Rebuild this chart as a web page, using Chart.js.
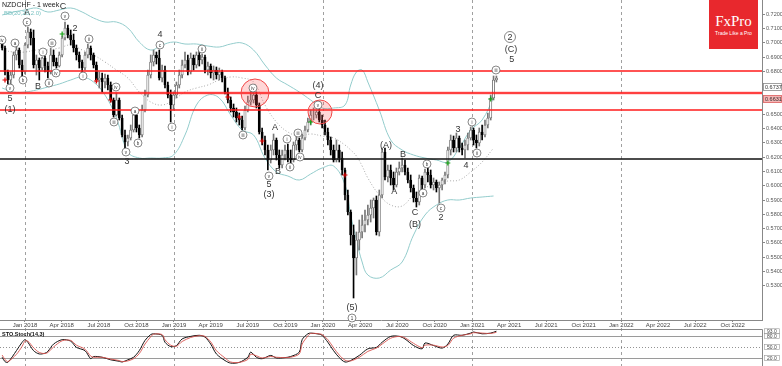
<!DOCTYPE html>
<html lang="en">
<head>
<meta charset="UTF-8" />
<title>NZDCHF - 1 week</title>
<script src="https://cdn.jsdelivr.net/npm/chart.js"></script>
<style>
  html, body { margin: 0; padding: 0; background: #fff; }
  body {
    width: 782px; height: 366px; position: relative; overflow: hidden;
    font-family: "Liberation Sans", Arial, sans-serif;
  }
  #mainBox { position: absolute; left: 0; top: 0; width: 782px; height: 330px; }
  #stochBox { position: absolute; left: 0; top: 328px; width: 782px; height: 38px; }
  .title { position: absolute; left: 2px; top: 1px; font-size: 7px; color: #222; }
  .bb { position: absolute; left: 4px; top: 10px; font-size: 6px; color: #7cc3c3; }
  .logo {
    position: absolute; left: 709px; top: 0; width: 49px; height: 49px;
    background: #e8282d; color: #fff; text-align: center;
  }
  .logo .name { font-family: "Liberation Serif", "DejaVu Serif", serif; font-size: 15px; margin-top: 14px; line-height: 15px; }
  .logo .slogan { font-size: 5px; line-height: 6px; margin-top: 1px; }
</style>
</head>
<body>
  <div id="mainBox"><canvas id="mainChart"></canvas></div>
  <div id="stochBox"><canvas id="stochChart"></canvas></div>
  <div class="title">NZDCHF - 1 week</div>
  <div class="bb">BB(20,20,2.0)</div>
  <div class="logo"><div class="name">FxPro</div><div class="slogan">Trade Like a Pro</div></div>

<script>
// weekly candles, first candle = 8 weeks before Jan 2018
const firstWeek = -8;
const opens = [
  0.7020,0.6964,0.6796,0.6740,0.6775,0.6915,0.6950,0.6845,0.6796,0.6985,
  0.7076,0.7034,0.6845,0.6880,0.6824,0.6894,0.6838,0.6796,0.6915,0.6866,
  0.6838,0.6915,0.7034,0.7104,0.7055,0.7020,0.6964,0.6915,0.6866,0.6824,
  0.6915,0.6964,0.6915,0.6845,0.6740,0.6754,0.6726,0.6754,0.6705,0.6600,
  0.6495,0.6600,0.6474,0.6355,0.6306,0.6334,0.6390,0.6495,0.6404,0.6355,
  0.6530,0.6635,0.6775,0.6866,0.6915,0.6894,0.6754,0.6810,0.6705,0.6635,
  0.6565,0.6635,0.6705,0.6775,0.6845,0.6880,0.6796,0.6894,0.6845,0.6915,
  0.6880,0.6901,0.6810,0.6838,0.6789,0.6810,0.6775,0.6796,0.6754,0.6656,
  0.6600,0.6544,0.6516,0.6474,0.6460,0.6404,0.6530,0.6586,0.6600,0.6635,
  0.6565,0.6376,0.6320,0.6250,0.6180,0.6250,0.6320,0.6215,0.6145,0.6215,
  0.6250,0.6194,0.6180,0.6285,0.6320,0.6250,0.6334,0.6390,0.6446,0.6495,
  0.6495,0.6516,0.6460,0.6425,0.6376,0.6320,0.6250,0.6180,0.6250,0.6194,
  0.6110,0.5935,0.5816,0.5655,0.5494,0.5620,0.5676,0.5725,0.5760,0.5795,
  0.5844,0.5900,0.5676,0.5935,0.6236,0.6061,0.6110,0.6054,0.6005,0.6096,
  0.6124,0.6145,0.6096,0.6040,0.5984,0.5914,0.5886,0.6054,0.6005,0.6096,
  0.6075,0.6005,0.6026,0.5984,0.6005,0.6040,0.6075,0.6250,0.6320,0.6264,
  0.6334,0.6264,0.6250,0.6285,0.6334,0.6390,0.6320,0.6299,0.6376,0.6355,
  0.6425,0.6474,0.6614,0.6740
];
const highs = [
  0.7034,0.6978,0.6810,0.6796,0.6936,0.6978,0.6964,0.6880,0.6999,0.7111,
  0.7097,0.7090,0.6915,0.6894,0.6901,0.6908,0.6866,0.6964,0.6950,0.6894,
  0.6936,0.7048,0.7146,0.7125,0.7090,0.7062,0.6985,0.6936,0.6880,0.6936,
  0.6992,0.6978,0.6929,0.6866,0.6796,0.6789,0.6782,0.6775,0.6726,0.6614,
  0.6649,0.6614,0.6495,0.6390,0.6355,0.6425,0.6509,0.6502,0.6425,0.6565,
  0.6670,0.6810,0.6915,0.6950,0.6936,0.6950,0.6845,0.6838,0.6726,0.6670,
  0.6656,0.6726,0.6810,0.6880,0.6936,0.6915,0.6929,0.6915,0.6936,0.6950,
  0.6922,0.6915,0.6866,0.6852,0.6838,0.6831,0.6824,0.6810,0.6768,0.6684,
  0.6621,0.6572,0.6544,0.6509,0.6488,0.6558,0.6628,0.6670,0.6649,0.6656,
  0.6579,0.6404,0.6348,0.6285,0.6285,0.6362,0.6334,0.6250,0.6250,0.6285,
  0.6292,0.6250,0.6306,0.6348,0.6334,0.6362,0.6418,0.6474,0.6530,0.6544,
  0.6530,0.6544,0.6495,0.6460,0.6404,0.6341,0.6285,0.6320,0.6285,0.6236,
  0.6124,0.5970,0.5830,0.5725,0.5676,0.5760,0.5795,0.5830,0.5865,0.5900,
  0.5914,0.5928,0.5970,0.6264,0.6264,0.6145,0.6145,0.6096,0.6124,0.6166,
  0.6194,0.6180,0.6124,0.6075,0.6005,0.5956,0.6075,0.6068,0.6117,0.6124,
  0.6110,0.6054,0.6040,0.6026,0.6054,0.6096,0.6271,0.6355,0.6348,0.6369,
  0.6348,0.6299,0.6320,0.6369,0.6411,0.6404,0.6355,0.6404,0.6425,0.6460,
  0.6509,0.6635,0.6768,0.6768
];
const lows = [
  0.6950,0.6775,0.6712,0.6698,0.6754,0.6880,0.6824,0.6761,0.6782,0.6964,
  0.6985,0.6824,0.6775,0.6740,0.6810,0.6796,0.6754,0.6782,0.6838,0.6824,
  0.6831,0.6901,0.7020,0.7034,0.6985,0.6936,0.6880,0.6824,0.6796,0.6810,
  0.6894,0.6880,0.6824,0.6726,0.6684,0.6656,0.6684,0.6670,0.6586,0.6481,
  0.6488,0.6460,0.6341,0.6264,0.6278,0.6320,0.6376,0.6376,0.6334,0.6341,
  0.6516,0.6621,0.6754,0.6838,0.6852,0.6740,0.6726,0.6684,0.6614,0.6446,
  0.6530,0.6614,0.6684,0.6754,0.6824,0.6775,0.6782,0.6810,0.6824,0.6838,
  0.6852,0.6789,0.6775,0.6754,0.6740,0.6747,0.6740,0.6726,0.6642,0.6579,
  0.6516,0.6481,0.6446,0.6425,0.6390,0.6390,0.6516,0.6565,0.6579,0.6544,
  0.6362,0.6285,0.6215,0.6110,0.6159,0.6215,0.6180,0.6124,0.6124,0.6180,
  0.6166,0.6159,0.6166,0.6250,0.6236,0.6236,0.6320,0.6376,0.6425,0.6460,
  0.6474,0.6446,0.6404,0.6355,0.6285,0.6215,0.6166,0.6166,0.6166,0.6075,
  0.5900,0.5795,0.5585,0.5214,0.5375,0.5550,0.5634,0.5676,0.5725,0.5746,
  0.5774,0.5655,0.5648,0.5914,0.6040,0.6026,0.6005,0.5970,0.5991,0.6075,
  0.6096,0.6075,0.6019,0.5956,0.5886,0.5851,0.5865,0.5977,0.5984,0.6026,
  0.5984,0.5970,0.5956,0.5879,0.5970,0.6012,0.6054,0.6215,0.6236,0.6236,
  0.6236,0.6215,0.6194,0.6250,0.6320,0.6285,0.6264,0.6278,0.6320,0.6341,
  0.6404,0.6460,0.6600,0.6726
];
const closes = [
  0.6964,0.6796,0.6740,0.6775,0.6915,0.6950,0.6845,0.6796,0.6985,0.7076,
  0.7034,0.6845,0.6880,0.6824,0.6894,0.6838,0.6796,0.6915,0.6866,0.6838,
  0.6915,0.7034,0.7104,0.7055,0.7020,0.6964,0.6915,0.6866,0.6824,0.6915,
  0.6964,0.6915,0.6845,0.6740,0.6754,0.6726,0.6754,0.6705,0.6600,0.6495,
  0.6600,0.6474,0.6355,0.6306,0.6334,0.6390,0.6495,0.6404,0.6355,0.6530,
  0.6635,0.6775,0.6866,0.6915,0.6894,0.6754,0.6810,0.6705,0.6635,0.6565,
  0.6635,0.6705,0.6775,0.6845,0.6880,0.6796,0.6894,0.6845,0.6915,0.6880,
  0.6901,0.6810,0.6838,0.6789,0.6810,0.6775,0.6796,0.6754,0.6656,0.6600,
  0.6544,0.6516,0.6474,0.6460,0.6404,0.6530,0.6586,0.6600,0.6635,0.6565,
  0.6376,0.6320,0.6250,0.6180,0.6250,0.6320,0.6215,0.6145,0.6215,0.6250,
  0.6194,0.6180,0.6285,0.6320,0.6250,0.6334,0.6390,0.6446,0.6495,0.6495,
  0.6516,0.6460,0.6425,0.6376,0.6320,0.6250,0.6180,0.6250,0.6194,0.6110,
  0.5935,0.5816,0.5655,0.5494,0.5620,0.5676,0.5725,0.5760,0.5795,0.5844,
  0.5900,0.5676,0.5935,0.6236,0.6061,0.6110,0.6054,0.6005,0.6096,0.6124,
  0.6145,0.6096,0.6040,0.5984,0.5914,0.5886,0.6054,0.6005,0.6096,0.6075,
  0.6005,0.6026,0.5984,0.6005,0.6040,0.6075,0.6250,0.6320,0.6264,0.6334,
  0.6264,0.6250,0.6285,0.6334,0.6390,0.6320,0.6299,0.6376,0.6355,0.6425,
  0.6474,0.6614,0.6740,0.6754
];

// Bollinger bands (20,2), sampled every few weeks
const bbWeeks = [-8,-4,0,4,8,12,16,20,24,28,32,36,40,44,48,52,56,60,64,68,72,76,80,84,88,92,96,100,104,108,112,114,116,118,120,124,128,132,136,140,144,148,152,156,160,164];
const bbUpper = [0.7195,0.7216,0.7230,0.7244,0.7216,0.7230,0.7244,0.7216,0.7174,0.7146,0.7146,0.7104,0.7006,0.6950,0.6985,0.7006,0.6992,0.6992,0.6978,0.6971,0.6992,0.6999,0.6950,0.6845,0.6754,0.6705,0.6656,0.6600,0.6544,0.6544,0.6565,0.6705,0.6796,0.6810,0.6726,0.6530,0.6320,0.6250,0.6215,0.6194,0.6180,0.6166,0.6264,0.6390,0.6460,0.6614];
const bbMiddle = [0.6950,0.6936,0.6936,0.6950,0.6950,0.6964,0.6985,0.6950,0.6915,0.6866,0.6810,0.6754,0.6656,0.6586,0.6565,0.6600,0.6656,0.6684,0.6705,0.6740,0.6761,0.6754,0.6726,0.6565,0.6446,0.6376,0.6348,0.6362,0.6348,0.6334,0.6285,0.6250,0.6208,0.6138,0.6054,0.5935,0.5865,0.5858,0.5935,0.5984,0.6019,0.6033,0.6040,0.6096,0.6166,0.6264];
const bbLower = [0.6684,0.6656,0.6656,0.6670,0.6691,0.6712,0.6740,0.6761,0.6726,0.6635,0.6474,0.6236,0.6194,0.6194,0.6194,0.6215,0.6355,0.6565,0.6635,0.6614,0.6495,0.6390,0.6355,0.6194,0.6096,0.6068,0.6040,0.6082,0.6124,0.6138,0.6005,0.5795,0.5620,0.5466,0.5375,0.5354,0.5410,0.5466,0.5655,0.5795,0.5865,0.5900,0.5900,0.5914,0.5921,0.5928];

// arrow markers of the indicator
const redMarkWeeks = [-7, 25, 30, 71, 75, 83, 112];
const redMarkPrices = [0.6740, 0.6733, 0.6600, 0.6621, 0.6481, 0.6313, 0.6075];
const greenMarkWeeks = [13, 100, 148, 163];
const greenMarkPrices = [0.7062, 0.6446, 0.6159, 0.6607];

// horizontal levels
const redLevels = [0.6803, 0.6649, 0.6527];
const blackLevel = 0.6190;
const zoneWeeks = [80.5, 103.25];
const zonePrices = [0.6649, 0.6516];

// price boxes on the axis: [price, text]
const axisBoxes = [[0.6691, '0.6737'], [0.6607, '0.6631']];

// wave labels: [text, week, price]
const waveText = [
  ['5', -5.25, 0.6607], ['(1)', -5.25, 0.6530], ['A', 0.7, 0.7209], ['B', 4.55, 0.6691],
  ['C', 13.3, 0.7251], ['2', 17.5, 0.7097], ['3', 35.7, 0.6166], ['4', 47.25, 0.7055],
  ['A', 87.5, 0.6404], ['B', 88.55, 0.6096], ['5', 85.4, 0.6005], ['(3)', 85.4, 0.5935],
  ['(4)', 102.55, 0.6698], ['C', 102.55, 0.6628], ['(5)', 114.45, 0.5144],
  ['(A)', 126.36, 0.6278], ['A', 129.2, 0.5956], ['B', 132.3, 0.6215], ['C', 136.5, 0.5809],
  ['(B)', 136.5, 0.5725], ['2', 145.6, 0.5774], ['3', 151.55, 0.6390], ['4', 154.4, 0.6138],
  ['(C)', 170.1, 0.6950], ['5', 170.4, 0.6880]
];
const waveCircled = [
  ['iv', -8.05, 0.7020], ['v', -5.25, 0.6684], ['a', -3.5, 0.6999], ['b', -0.7, 0.6740],
  ['c', 0.7, 0.7146], ['i', 6.3, 0.6936], ['ii', 8.4, 0.6719], ['iii', 9.45, 0.6999],
  ['iv', 10.85, 0.6789], ['v', 14.0, 0.7188], ['i', 20.3, 0.6768], ['ii', 22.4, 0.7027],
  ['iii', 31.15, 0.6446], ['iv', 31.85, 0.6691], ['v', 35.35, 0.6236], ['a', 38.5, 0.6523],
  ['b', 39.55, 0.6299], ['c', 47.25, 0.6985], ['i', 51.45, 0.6411], ['ii', 61.95, 0.6957],
  ['iii', 76.3, 0.6355], ['iv', 79.8, 0.6684], ['v', 85.4, 0.6068], ['i', 91.7, 0.6327],
  ['ii', 92.75, 0.6131], ['iii', 95.55, 0.6369], ['iv', 96.25, 0.6201], ['v', 102.55, 0.6565],
  ['1', 114.45, 0.5074], ['a', 139.3, 0.5949], ['b', 140.7, 0.6152], ['c', 145.6, 0.5844],
  ['i', 156.45, 0.6446], ['ii', 158.2, 0.6229], ['iii', 164.85, 0.6810]
];
const bigCircled = [['2', 169.75, 0.7041]];

// stochastic (14,3)
const stochWeeks = [-8,-7,-6,-3,-1,0,1,3,5,7,8,10,13,16,18,21,23,24,27,30,33,34,36,38,40,42,44,45,48,49,51,53,55,58,61,63,65,67,70,72,75,78,79,81,83,86,88,91,93,96,97,99,100,103,104,106,108,110,112,114,117,120,123,125,128,131,133,136,139,140,143,146,148,150,153,156,157,160,163,165];
const stochMain = [22,10,8,40,63,70,63,40,31,33,38,58,70,66,49,40,18,24,22,15,11,9,15,22,40,68,84,86,82,63,51,54,72,79,82,77,58,31,13,6,8,22,36,22,18,27,20,21,24,36,70,86,88,85,82,63,40,21,9,13,27,45,49,63,79,79,72,54,45,61,54,47,58,82,82,88,91,86,88,93];
const stochSignal = [28,16,10,30,52,66,66,48,35,32,35,50,67,68,55,44,25,22,22,17,13,10,12,18,32,58,78,85,84,70,55,52,65,76,81,79,64,40,20,9,8,16,30,26,20,24,22,21,22,31,58,80,87,86,84,70,48,28,14,12,22,38,47,58,74,79,75,60,48,55,55,50,54,74,82,86,89,88,87,90];
const stochLevels = [80, 50, 20];

// axes
const quarterLabels = ['Jan 2018','Apr 2018','Jul 2018','Oct 2018','Jan 2019','Apr 2019','Jul 2019','Oct 2019',
  'Jan 2020','Apr 2020','Jul 2020','Oct 2020','Jan 2021','Apr 2021','Jul 2021','Oct 2021',
  'Jan 2022','Apr 2022','Jul 2022','Oct 2022'];
const priceTicks = [0.53,0.54,0.55,0.56,0.57,0.58,0.59,0.60,0.61,0.62,0.63,0.64,0.65,0.66,0.67,0.68,0.69,0.70,0.71,0.72];

const quarterWeeks = quarterLabels.map((s, q) =>
  (Date.UTC(2018 + Math.floor(q / 4), (q % 4) * 3, 1) - Date.UTC(2018, 0, 1)) / 6048e5);

const X_MIN = -8.75, X_MAX = 257.96;
const FONT = '"Liberation Sans", Arial, sans-serif';
Chart.defaults.font.family = FONT;

const weeks = closes.map((c, i) => firstWeek + i);
const isBear = i => closes[i] < opens[i];
const pts = (xs, ys) => xs.map((x, i) => ({ x: x, y: ys[i] }));

function yearLines(chart) {
  const { ctx, chartArea: a, scales: { x } } = chart;
  ctx.save();
  ctx.strokeStyle = '#a0a0a0';
  ctx.lineWidth = 1;
  ctx.setLineDash([3, 3]);
  quarterWeeks.forEach((w, i) => {
    if (i % 4) return;
    const px = Math.round(x.getPixelForValue(w)) + 0.5;
    ctx.beginPath();
    ctx.moveTo(px, a.top);
    ctx.lineTo(px, a.bottom);
    ctx.stroke();
  });
  ctx.restore();
}

function circledLabel(ctx, text, px, py, r, size) {
  ctx.beginPath();
  ctx.arc(px, py, r, 0, Math.PI * 2);
  ctx.fillStyle = '#fff';
  ctx.fill();
  ctx.lineWidth = 0.7;
  ctx.strokeStyle = '#555';
  ctx.stroke();
  ctx.fillStyle = '#333';
  ctx.font = size + 'px ' + FONT;
  ctx.fillText(text, px, py + 0.5);
}

const mainOverlay = {
  id: 'mainOverlay',
  beforeDatasetsDraw(chart) { yearLines(chart); },
  afterDatasetsDraw(chart) {
    const { ctx, chartArea: a, scales: { x, y } } = chart;
    ctx.save();
    // levels
    redLevels.forEach((lv, i) => {
      const py = Math.round(y.getPixelForValue(lv));
      if (i === 1) {
        ctx.strokeStyle = 'rgba(255,0,0,0.3)';
        ctx.lineWidth = 3;
        ctx.beginPath(); ctx.moveTo(a.left, py); ctx.lineTo(a.right, py); ctx.stroke();
      }
      ctx.strokeStyle = '#ff1a1a';
      ctx.lineWidth = 1.6;
      ctx.beginPath(); ctx.moveTo(a.left, py); ctx.lineTo(a.right, py); ctx.stroke();
    });
    const by = Math.round(y.getPixelForValue(blackLevel));
    ctx.strokeStyle = '#111';
    ctx.lineWidth = 1.5;
    ctx.beginPath(); ctx.moveTo(a.left, by); ctx.lineTo(a.right, by); ctx.stroke();

    // highlighted turning points
    const radii = [14, 12];
    zoneWeeks.forEach((w, i) => {
      ctx.beginPath();
      ctx.arc(x.getPixelForValue(w), y.getPixelForValue(zonePrices[i]), radii[i], 0, Math.PI * 2);
      ctx.fillStyle = 'rgba(255,70,70,0.22)';
      ctx.fill();
      ctx.strokeStyle = '#f04848';
      ctx.lineWidth = 1;
      ctx.stroke();
    });

    // wave labels
    ctx.textAlign = 'center';
    ctx.textBaseline = 'middle';
    ctx.fillStyle = '#333';
    ctx.font = '9px ' + FONT;
    waveText.forEach(([t, w, p]) => ctx.fillText(t, x.getPixelForValue(w), y.getPixelForValue(p)));
    waveCircled.forEach(([t, w, p]) =>
      circledLabel(ctx, t, x.getPixelForValue(w), y.getPixelForValue(p), 4, 4.5));
    bigCircled.forEach(([t, w, p]) =>
      circledLabel(ctx, t, x.getPixelForValue(w), y.getPixelForValue(p), 5.5, 9));
    ctx.restore();
  },
  afterDraw(chart) {
    const { ctx, chartArea: a, scales: { y } } = chart;
    ctx.save();
    ctx.font = '5.5px ' + FONT;
    ctx.textBaseline = 'middle';
    axisBoxes.forEach(([p, t], i) => {
      const py = Math.round(y.getPixelForValue(p));
      ctx.fillStyle = i === 0 ? '#fff' : '#f5b5b5';
      ctx.fillRect(a.right + 1, py - 4, 19, 8);
      ctx.strokeStyle = i === 0 ? '#8a8a8a' : '#d66';
      ctx.lineWidth = 0.8;
      ctx.strokeRect(a.right + 1.5, py - 3.5, 18, 7);
      ctx.fillStyle = '#333';
      ctx.fillText(t, a.right + 3, py + 0.3);
    });
    ctx.restore();
  }
};

new Chart(document.getElementById('mainChart'), {
  type: 'bar',
  data: {
    datasets: [
      {
        type: 'line', data: pts(bbWeeks, bbUpper), borderColor: '#93cccc', borderWidth: 1,
        pointRadius: 0, tension: 0.4, order: 5
      },
      {
        type: 'line', data: pts(bbWeeks, bbLower), borderColor: '#93cccc', borderWidth: 1,
        pointRadius: 0, tension: 0.4, order: 5
      },
      {
        type: 'line', data: pts(bbWeeks, bbMiddle), borderColor: '#a8a8a8', borderWidth: 1,
        borderDash: [1, 2], pointRadius: 0, tension: 0.4, order: 5
      },
      {
        data: weeks.map((w, i) => ({ x: w, y: [lows[i], highs[i]] })),
        backgroundColor: ctx => isBear(ctx.dataIndex) ? '#000' : '#777',
        barThickness: 1, grouped: false, order: 3
      },
      {
        data: weeks.map((w, i) => ({ x: w, y: [opens[i], closes[i]] })),
        backgroundColor: ctx => isBear(ctx.dataIndex) ? '#000' : '#fff',
        borderColor: ctx => isBear(ctx.dataIndex) ? '#000' : '#666',
        borderWidth: 0.8, borderSkipped: false,
        barThickness: 2.3, grouped: false, order: 2
      },
      {
        type: 'line', data: pts(redMarkWeeks, redMarkPrices), showLine: false,
        pointStyle: 'cross', pointRadius: 2.5, borderColor: '#e00000', borderWidth: 1.2, order: 1
      },
      {
        type: 'line', data: pts(greenMarkWeeks, greenMarkPrices), showLine: false,
        pointStyle: 'cross', pointRadius: 2.5, borderColor: '#10a010', borderWidth: 1.2, order: 1
      }
    ]
  },
  options: {
    responsive: true, maintainAspectRatio: false, animation: false, devicePixelRatio: 1,
    events: [],
    layout: { padding: 0, autoPadding: false },
    plugins: { legend: { display: false }, tooltip: { enabled: false } },
    scales: {
      x: {
        type: 'linear', min: X_MIN, max: X_MAX, offset: false,
        grid: { drawOnChartArea: false, tickLength: 2, color: '#888', offset: false },
        border: { display: true, color: '#888' },
        ticks: {
          autoSkip: false, maxRotation: 0, padding: 0, color: '#444', font: { size: 6 },
          callback: (v, i) => quarterLabels[i]
        },
        afterBuildTicks: s => { s.ticks = quarterWeeks.map(v => ({ value: v })); },
        afterFit: s => { s.height = 10; s.paddingLeft = 0; s.paddingRight = 0; }
      },
      y: {
        position: 'right', min: 0.5060, max: 0.7300,
        grid: { drawOnChartArea: false, tickLength: 3, color: '#888' },
        border: { display: true, color: '#888' },
        ticks: {
          padding: 1, color: '#555', font: { size: 5.5 },
          callback: v => v.toFixed(4)
        },
        afterBuildTicks: s => { s.ticks = priceTicks.map(v => ({ value: v })); },
        afterFit: s => { s.width = 20; s.paddingTop = 0; s.paddingBottom = 0; }
      }
    }
  },
  plugins: [mainOverlay]
});

const stochOverlay = {
  id: 'stochOverlay',
  beforeDatasetsDraw(chart) {
    const { ctx, chartArea: a, scales: { y } } = chart;
    yearLines(chart);
    ctx.save();
    stochLevels.forEach(lv => {
      const py = Math.round(y.getPixelForValue(lv)) + 0.5;
      ctx.strokeStyle = lv === 50 ? '#777' : '#9a9a9a';
      ctx.lineWidth = lv === 50 ? 0.8 : 1.2;
      ctx.setLineDash(lv === 50 ? [1, 2] : []);
      ctx.beginPath(); ctx.moveTo(a.left, py); ctx.lineTo(a.right, py); ctx.stroke();
    });
    ctx.restore();
  },
  afterDraw(chart) {
    const { ctx, chartArea: a, scales: { y } } = chart;
    ctx.save();
    ctx.strokeStyle = '#888';
    ctx.lineWidth = 1;
    ctx.beginPath();
    ctx.moveTo(0, 1.5); ctx.lineTo(a.right + 0.5, 1.5); ctx.lineTo(a.right + 0.5, chart.height);
    ctx.stroke();
    ctx.fillStyle = '#111';
    ctx.font = 'bold 5.5px ' + FONT;
    ctx.textBaseline = 'middle';
    ctx.fillText('STO.Stoch(14,3)', 2, 6);
    ctx.font = '5px ' + FONT;
    ctx.fillStyle = '#444';
    [stochMain[stochMain.length - 1], ...stochLevels].forEach(v => {
      const py = y.getPixelForValue(v);
      ctx.strokeStyle = '#999';
      ctx.lineWidth = 0.6;
      ctx.strokeRect(a.right + 2.5, py - 2.5, 15, 5);
      ctx.fillText(v.toFixed(1), a.right + 5, py + 0.3);
    });
    ctx.restore();
  }
};

new Chart(document.getElementById('stochChart'), {
  type: 'line',
  data: {
    datasets: [
      { data: pts(stochWeeks, stochSignal), borderColor: '#d9534f', borderWidth: 0.9, pointRadius: 0, tension: 0.3 },
      { data: pts(stochWeeks, stochMain), borderColor: '#111', borderWidth: 1, pointRadius: 0, tension: 0.3 }
    ]
  },
  options: {
    responsive: true, maintainAspectRatio: false, animation: false, devicePixelRatio: 1,
    events: [],
    layout: { padding: { right: 20 }, autoPadding: false },
    plugins: { legend: { display: false }, tooltip: { enabled: false } },
    scales: {
      x: { type: 'linear', min: X_MIN, max: X_MAX, display: false },
      y: { min: -1.9, max: 101.9, display: false }
    }
  },
  plugins: [stochOverlay]
});
</script>
</body>
</html>
